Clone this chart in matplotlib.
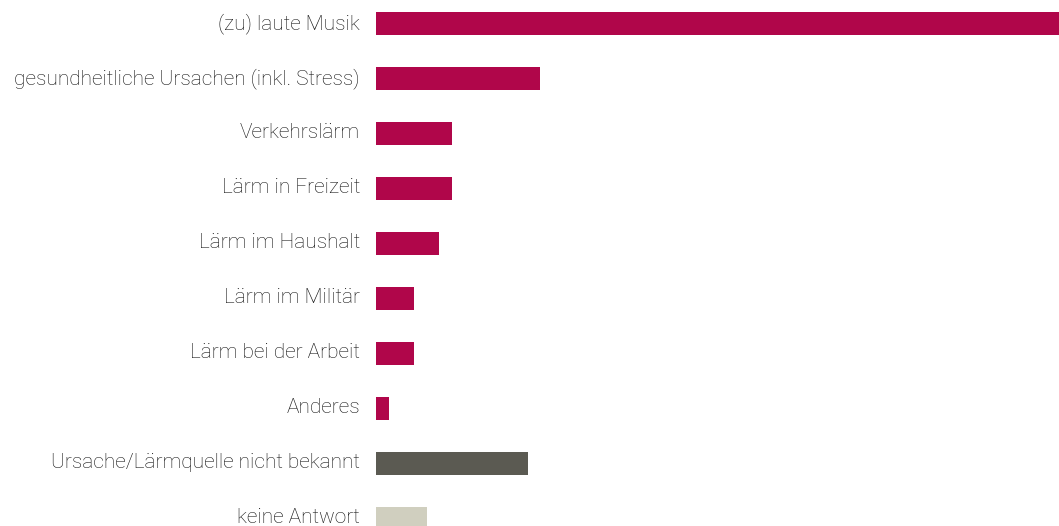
import matplotlib
matplotlib.use("Agg")
import matplotlib.pyplot as plt
from matplotlib.transforms import ScaledTranslation

# Ursachen für Hörprobleme (Anteile in %)
categories = [
    "(zu) laute Musik",
    "gesundheitliche Ursachen (inkl. Stress)",
    "Verkehrslärm",
    "Lärm in Freizeit",
    "Lärm im Haushalt",
    "Lärm im Militär",
    "Lärm bei der Arbeit",
    "Anderes",
    "Ursache/Lärmquelle nicht bekannt",
    "keine Antwort",
]
values = [54, 13, 6, 6, 5, 3, 3, 1, 12, 4]
groups = ["cause"] * 8 + ["unknown", "none"]

palette = {"cause": "#B0064A", "unknown": "#5B5A52", "none": "#D0CFBF"}

W, H = 1059, 526
fig = plt.figure(figsize=(W / 100, H / 100), dpi=100)
left = 376 / W
ax = fig.add_axes([left, 0, 1 - left, 1])

pos = list(range(len(categories)))
ax.barh(pos, values, height=0.42, color=[palette[g] for g in groups])

ax.set_xlim(0, max(values))
ax.set_ylim((H - 23.5) / 55, -23.5 / 55)
ax.set_yticks(pos)
ax.set_yticklabels(categories, fontsize=15.0, family=["Roboto", "DejaVu Sans"],
                   fontweight="light", color="#111111")
ax.tick_params(axis="y", length=0, pad=11.5)
# nudge labels up so their capitals sit centred on the bars
shift = ScaledTranslation(0, 2.6 / 100, fig.dpi_scale_trans)
for lbl in ax.get_yticklabels():
    lbl.set_transform(lbl.get_transform() + shift)
ax.set_xticks([])
for s in ax.spines.values():
    s.set_visible(False)

fig.savefig("out.png", dpi=100)
